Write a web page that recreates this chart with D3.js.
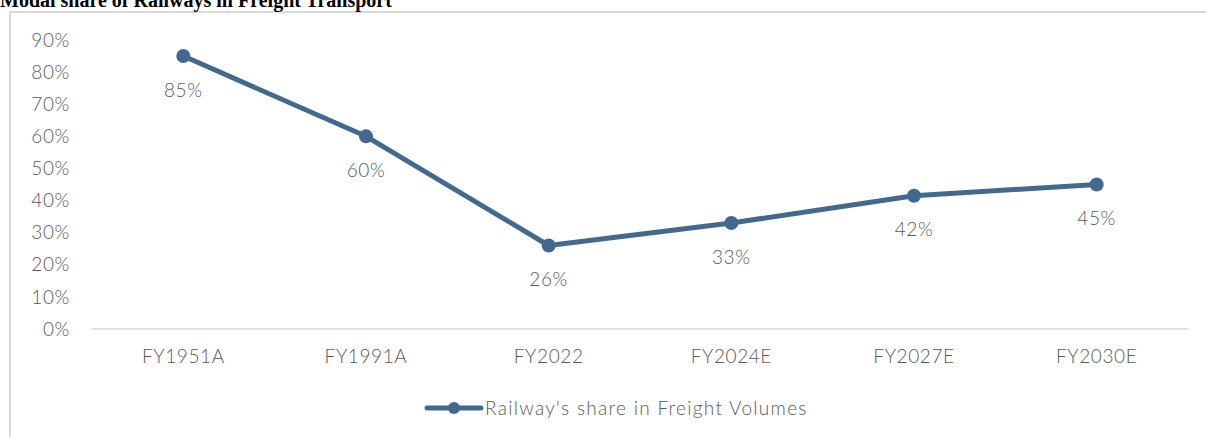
<!DOCTYPE html>
<html>
<head>
<meta charset="utf-8">
<script src="https://cdn.jsdelivr.net/npm/d3@7"></script>
<style>
  body { margin: 0; background: #fff; }
  text { font-family: Lato, "Open Sans", sans-serif; font-weight: 300; fill: #5a5a5a; }
  .title { font-family: "Liberation Serif", "Times New Roman", serif; font-weight: bold; fill: #000; }
</style>
</head>
<body>
<script>
// Modal share of Railways in Freight Transport

var categories = ["FY1951A", "FY1991A", "FY2022", "FY2024E", "FY2027E", "FY2030E"]
var shares = [85, 60, 26, 33, 41.5, 45]
var yTicks = [0, 10, 20, 30, 40, 50, 60, 70, 80, 90]
var seriesName = "Railway's share in Freight Volumes"

var width = 1206
var height = 437
var color = "#43698f"

var svg = d3.select("body").append("svg")
  .attr("width", width)
  .attr("height", height)

// chart frame (runs off the right and bottom edges)
svg.append("rect")
  .attr("x", 10)
  .attr("y", 12)
  .attr("width", width + 10)
  .attr("height", height + 10)
  .attr("fill", "none")
  .attr("stroke", "#d9d9d9")
  .attr("stroke-width", 2)

svg.append("text")
  .attr("class", "title")
  .attr("x", 0)
  .attr("y", 7)
  .style("font-size", "20px")
  .text("Modal share of Railways in Freight Transport")

var x = d3.scaleBand()
  .domain(categories)
  .range([92, 1188])

var y = d3.scaleLinear()
  .domain([0, 90])
  .range([329, 40])

svg.append("g")
  .selectAll("text")
  .data(yTicks)
  .enter().append("text")
    .attr("x", 70)
    .attr("y", function(d) { return y(d) })
    .attr("dy", "0.35em")
    .style("text-anchor", "end")
    .style("font-size", "19px")
    .style("letter-spacing", "0.6px")
    .text(function(d) { return d + "%" })

svg.append("line")
  .attr("x1", 92)
  .attr("x2", 1188)
  .attr("y1", y(0))
  .attr("y2", y(0))
  .attr("stroke", "#d9d9d9")
  .attr("stroke-width", 1.5)

svg.append("g")
  .selectAll("text")
  .data(categories)
  .enter().append("text")
    .attr("x", function(d) { return x(d) + x.bandwidth() / 2 })
    .attr("y", 356)
    .attr("dy", "0.35em")
    .style("text-anchor", "middle")
    .style("font-size", "19px")
    .style("letter-spacing", "0.6px")
    .text(function(d) { return d })

var data = categories.map(function(c, i) { return { cat: c, value: shares[i] } })
var cx = function(d) { return x(d.cat) + x.bandwidth() / 2 }

var line = d3.line()
  .x(cx)
  .y(function(d) { return y(d.value) })

svg.append("path")
  .datum(data)
  .attr("d", line)
  .attr("fill", "none")
  .attr("stroke", color)
  .attr("stroke-width", 5)
  .attr("stroke-linejoin", "round")

svg.append("g")
  .selectAll("circle")
  .data(data)
  .enter().append("circle")
    .attr("cx", cx)
    .attr("cy", function(d) { return y(d.value) })
    .attr("r", 7)
    .attr("fill", color)

svg.append("g")
  .selectAll("text")
  .data(data)
  .enter().append("text")
    .attr("x", cx)
    .attr("y", function(d) { return y(d.value) + 34 })
    .attr("dy", "0.35em")
    .style("text-anchor", "middle")
    .style("font-size", "19px")
    .style("letter-spacing", "0.6px")
    .text(function(d) { return Math.round(d.value) + "%" })

// legend
var leg = svg.append("g").attr("transform", "translate(427,408)")
leg.append("line")
  .attr("x1", 0)
  .attr("x2", 54)
  .attr("stroke", color)
  .attr("stroke-width", 5)
  .attr("stroke-linecap", "round")
leg.append("circle")
  .attr("cx", 27)
  .attr("r", 6)
  .attr("fill", color)
leg.append("text")
  .attr("x", 58)
  .attr("dy", "0.35em")
  .style("font-size", "19px")
  .style("letter-spacing", "1.3px")
  .text(seriesName)
</script>
</body>
</html>
